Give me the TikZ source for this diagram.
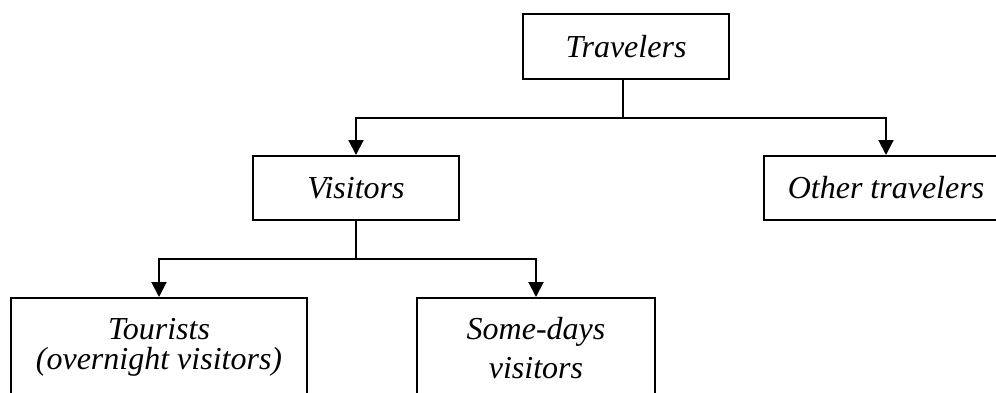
\documentclass[tikz,border=0pt]{standalone}
\usepackage{fontspec}
\setmainfont{Liberation Serif}
\usetikzlibrary{arrows.meta,positioning}
\tikzset{
  box/.style={draw,line width=2pt,align=center,inner sep=0pt,
    font=\fontsize{32}{30}\selectfont\itshape},
  arr/.style={line width=2pt,-{Triangle[width=15pt,length=15pt]}}
}
\begin{document}
\begin{tikzpicture}[x=1pt,y=1pt]
\useasboundingbox (0,0) rectangle (996,-392);
\clip (0,0) rectangle (996,-392);
\node (trav) [box,minimum width=206pt,minimum height=65pt] at (626,-46.5) {Travelers};
\node (vis) [box,minimum width=206pt,minimum height=64pt] at (356,-188) {Visitors};
\node (oth) [box,minimum width=244pt,minimum height=64pt] at (886,-188) {Other travelers};
\node (tour) [box,minimum width=296pt,minimum height=98pt,anchor=north] at (159,-297) {Tourists\\(overnight visitors)};
\node (some) [box,minimum width=238pt,minimum height=100pt,anchor=north] at (536,-297) {Some-days\\[9pt]visitors};
\coordinate (s1) at (623,-118);
\coordinate (s2) at (356,-259);
\draw[line width=2pt] (trav.south -| s1) -- (s1);
\draw[arr] (s1) -| (vis.north);
\draw[arr] (s1) -| (oth.north);
\draw[line width=2pt] (vis.south) -- (s2);
\draw[arr] (s2) -| (tour.north);
\draw[arr] (s2) -| (some.north);
\end{tikzpicture}
\end{document}
